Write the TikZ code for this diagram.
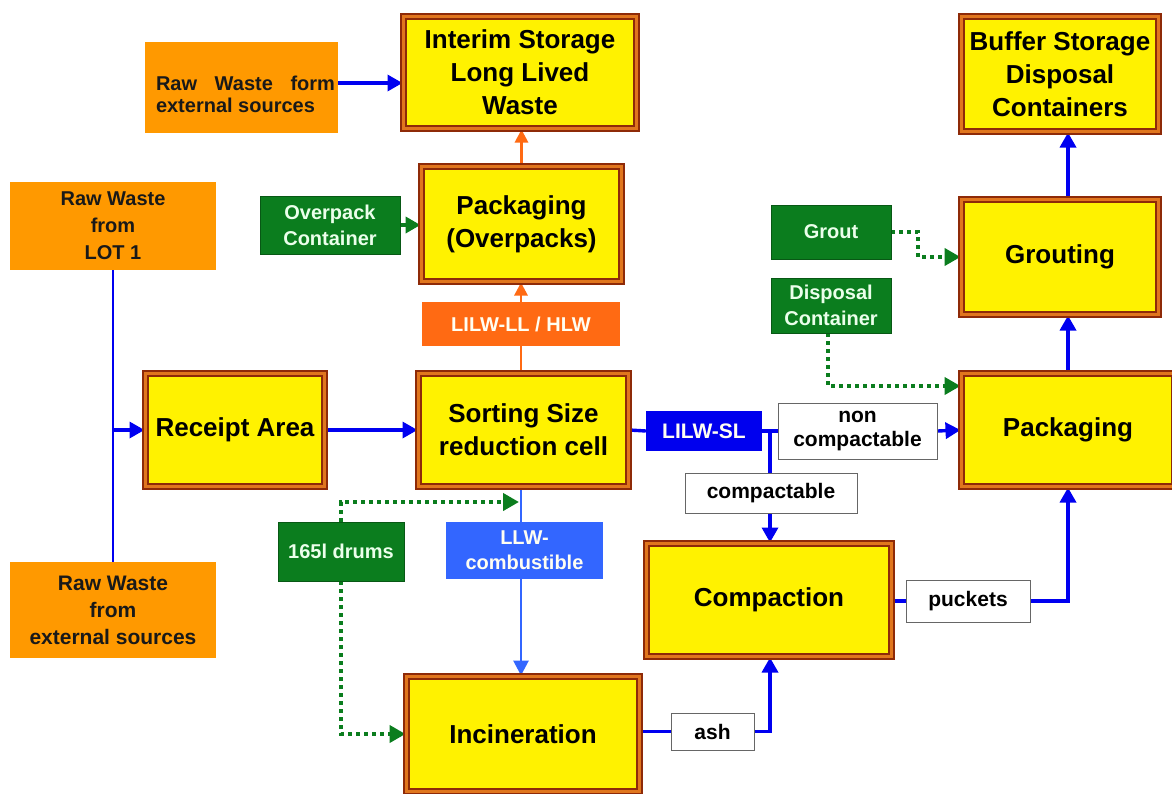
\documentclass[tikz,border=0pt]{standalone}
\usepackage{fontspec}
\setmainfont{Liberation Sans}
\usetikzlibrary{arrows.meta,backgrounds,calc}
\definecolor{bbrown}{HTML}{8E2A08}
\definecolor{borange}{HTML}{E0761E}
\definecolor{rawor}{HTML}{FF9900}
\definecolor{gboxc}{HTML}{0B7D1E}
\definecolor{llor}{HTML}{FF6A13}
\definecolor{slblue}{HTML}{0000EE}
\definecolor{lblue}{HTML}{3366FF}
\definecolor{cblue}{HTML}{0000F0}
\begin{document}
\begin{tikzpicture}[x=1pt,y=-1pt,
  mainbox/.style={draw=bbrown, line width=2pt, double=borange, double distance=3pt, fill=yellow, align=center, inner sep=0pt, font=\fontsize{26}{33}\selectfont\bfseries},
  rawbox/.style={fill=rawor, draw=none, align=center, inner sep=0pt, font=\fontsize{20}{27}\selectfont\bfseries, text=black!90},
  greenbox/.style={fill=gboxc, draw=gboxc!70!black, line width=0.6pt, text=white!92!green, align=center, inner sep=0pt, font=\fontsize{20}{26}\selectfont\bfseries},
  wlabel/.style={fill=white, draw=black!60, line width=1pt, align=center, inner sep=0pt, font=\fontsize{21}{24}\selectfont\bfseries},
  clabel/.style={draw=none, align=center, inner sep=0pt, text=white!95!yellow, font=\fontsize{20}{25}\selectfont\bfseries},
  flow/.style={cblue, line width=3.4pt},
  flowarrow/.style={flow, -{Triangle[length=15pt,width=16pt]}},
  orflow/.style={llor, line width=2.8pt},
  orarrow/.style={orflow, -{Triangle[length=13pt,width=13pt]}},
  lbflow/.style={lblue, line width=2.8pt},
  lbarrow/.style={lbflow, -{Triangle[length=15pt,width=15pt]}},
  gdot/.style={gboxc, line width=4pt, dash pattern=on 4pt off 4pt},
  gdotarrow/.style={gdot, -{Triangle[length=16pt,width=17pt]}},
  garrow/.style={gboxc, line width=4pt, -{Triangle[length=15pt,width=16pt]}}
]
\useasboundingbox (0,0) rectangle (1172,793);

% main boxes
\node[mainbox, minimum width=233pt, minimum height=112pt] (interim) at (520,72.5) {Interim Storage\\Long Lived\\Waste};
\node[mainbox, minimum width=197pt, minimum height=115pt] (buffer) at (1060,74) {Buffer Storage\\Disposal\\Containers};
\node[mainbox, minimum width=200pt, minimum height=115pt] (pack1) at (521.5,224) {Packaging\\(Overpacks)};
\node[mainbox, minimum width=197pt, minimum height=115pt] (grouting) at (1060,257) {Grouting};
\node[mainbox, minimum width=179pt, minimum height=113pt] (receipt) at (235,430) {Receipt Area};
\node[mainbox, minimum width=210pt, minimum height=113pt] (sorting) at (523.5,430) {Sorting Size\\reduction cell};
\node[mainbox, minimum width=213pt, minimum height=113pt] (pack2) at (1068,430) {Packaging};
\node[mainbox, minimum width=245pt, minimum height=113pt] (compaction) at (769,600) {Compaction};
\node[mainbox, minimum width=233pt, minimum height=115pt] (incin) at (523,734) {Incineration};

% raw waste boxes
\node[rawbox, minimum width=193pt, minimum height=91pt] (rawA) at (241.5,87.5) {};
\node[inner sep=0pt, font=\fontsize{20}{22}\selectfont\bfseries, text=black!90] (rawAtxt) at (245.5,94) {\parbox{179pt}{Raw\hfill Waste\hfill form\\external sources}};
\node[rawbox, minimum width=206pt, minimum height=88pt] (lot1) at (113,226) {Raw Waste\\from\\LOT 1};
\node[rawbox, minimum width=206pt, minimum height=96pt, font=\fontsize{21}{27}\selectfont\bfseries] (rawB) at (113,610) {Raw Waste\\from\\external sources};

% green boxes
\node[greenbox, minimum width=140pt, minimum height=58pt] (overpack) at (330,225) {Overpack\\Container};
\node[greenbox, minimum width=120pt, minimum height=54pt] (grout) at (831,232) {Grout};
\node[greenbox, minimum width=120pt, minimum height=55pt] (disposal) at (831,305.5) {Disposal\\Container};
\node[greenbox, minimum width=126pt, minimum height=59pt] (drums) at (341,551.5) {165l drums};

% coloured labels
\node[clabel, fill=llor, minimum width=198pt, minimum height=44pt] (lilwll) at (521,324) {LILW-LL / HLW};
\node[clabel, fill=slblue, minimum width=116pt, minimum height=40pt, font=\fontsize{21}{25}\selectfont\bfseries] (lilwsl) at (704,431) {LILW-SL};
\node[clabel, fill=lblue, minimum width=157pt, minimum height=57pt] (llw) at (524.5,550.5) {LLW-\\combustible};

% white labels
\node[wlabel, minimum width=159pt, minimum height=56pt] (noncomp) at (857.5,431) {non\\compactable};
\node[wlabel, minimum width=172pt, minimum height=40pt] (comp) at (771,493) {compactable};
\node[wlabel, minimum width=124pt, minimum height=42pt] (puckets) at (968,601) {puckets};
\node[wlabel, minimum width=83pt, minimum height=37pt] (ash) at (712.5,731.5) {ash};

\coordinate (drumsIn) at (519,502);
\coordinate (pk2in) at ([yshift=44pt]pack2.west);

\begin{scope}[on background layer]
\fill[white] (0,0) rectangle (1172,793);
\draw[flowarrow] (rawA.east |- 0,83) -- (interim.west |- 0,83);
\draw[orarrow] (pack1.north) -- (pack1.north |- interim.south);
\draw[orflow] (lilwll.south) -- (lilwll.south |- sorting.north);
\draw[orarrow] (lilwll.north) -- (lilwll.north |- pack1.south);
\draw[garrow] (overpack.east) -- (overpack.east -| pack1.west);
\draw[cblue, line width=2.8pt] (lot1.south) -- (rawB.north);
\draw[flowarrow] (lot1.south |- receipt.west) -- (receipt.west);
\draw[flowarrow] (receipt.east) -- (sorting.west);
\draw[flow] (sorting.east) -- (lilwsl.west);
\draw[flow] (lilwsl.east) -- (noncomp.west);
\draw[flowarrow] (noncomp.east) -- (pack2.west);
\draw[flow] (comp.north -| 770,0) -- (770,431);
\draw[flowarrow] (comp.south -| 770,0) -- (770,0 |- compaction.north);
\draw[lbflow] (llw.north -| 521,0) -- (521,0 |- sorting.south);
\draw[lbarrow] (llw.south -| 521,0) -- (521,0 |- incin.north);
\draw[gdotarrow] (drums.north) |- (drumsIn);
\draw[gdotarrow] (drums.south) |- (incin.west);
\draw[flow] (incin.east |- ash.west) -- (ash.west);
\draw[flowarrow] (ash.east) -| (770,0 |- compaction.south);
\draw[flow] (compaction.east |- puckets.west) -- (puckets.west);
\draw[flowarrow] (puckets.east) -| (pack2.south);
\draw[flowarrow] (pack2.north) -- (pack2.north |- grouting.south);
\draw[flowarrow] (pack2.north |- grouting.north) -- (pack2.north |- buffer.south);
\draw[gdotarrow] (grout.east) -- ++(27,0) |- (grouting.west);
\draw[gdotarrow] (disposal.south -| 828,0) |- (pk2in);
\end{scope}
\end{tikzpicture}
\end{document}
